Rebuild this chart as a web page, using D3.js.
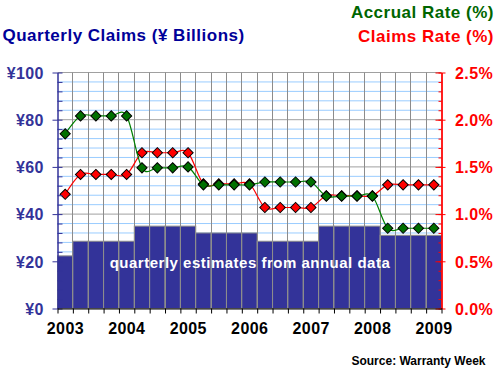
<!DOCTYPE html>
<html>
<head>
<meta charset="utf-8">
<script src="https://cdn.jsdelivr.net/npm/d3@7"></script>
<style>
  body { margin: 0; background: #fff; }
  text { font-family: "Liberation Sans", Arial, sans-serif; }
</style>
</head>
<body>
<div id="chart"></div>
<script>
// quarters, 2003 Q1 .. 2009 Q1
var quarters = ["2003 Q1","2003 Q2","2003 Q3","2003 Q4",
                "2004 Q1","2004 Q2","2004 Q3","2004 Q4",
                "2005 Q1","2005 Q2","2005 Q3","2005 Q4",
                "2006 Q1","2006 Q2","2006 Q3","2006 Q4",
                "2007 Q1","2007 Q2","2007 Q3","2007 Q4",
                "2008 Q1","2008 Q2","2008 Q3","2008 Q4",
                "2009 Q1"];
// claims in yen billions (quarterly estimates from annual data)
var claims      = [22.3, 28.5, 28.5, 28.5, 28.5, 34.9, 34.9, 34.9, 34.9,
                   32.0, 32.0, 32.0, 32.0, 28.5, 28.5, 28.5, 28.5,
                   34.9, 34.9, 34.9, 34.9, 31.0, 31.0, 31.0, 31.0];
// rates in percent
var accrual     = [1.85, 2.04, 2.04, 2.04, 2.04, 1.49, 1.49, 1.49, 1.50,
                   1.31, 1.31, 1.31, 1.31, 1.34, 1.34, 1.34, 1.34,
                   1.19, 1.19, 1.19, 1.19, 0.85, 0.85, 0.85, 0.85];
var claims_rate = [1.21, 1.42, 1.42, 1.42, 1.42, 1.65, 1.65, 1.65, 1.65,
                   1.32, 1.32, 1.32, 1.32, 1.07, 1.07, 1.07, 1.07,
                   1.195, 1.195, 1.195, 1.195, 1.31, 1.31, 1.31, 1.31];
var left_ticks  = [0, 20, 40, 60, 80, 100];
var right_ticks = [0, 0.5, 1.0, 1.5, 2.0, 2.5];

var chart_width  = 496;
var chart_height = 374;
var left   = 57.5, right = 441.5;
var top_y  = 72.5, bottom = 308.5;

var svg = d3.select('#chart')
    .append('svg')
    .attr('width', chart_width)
    .attr('height', chart_height);

// Scales
var x_scale = d3.scaleBand()
                .domain(quarters)
                .range([left, right])
                .padding(0);
// index scale for band edges (ticks + vertical grid)
var xi_scale = d3.scaleLinear()
                .domain([0, quarters.length])
                .range([left, right]);
var yl_scale = d3.scaleLinear().domain([0, 100]).range([bottom, top_y]);
var yr_scale = d3.scaleLinear().domain([0, 2.5]).range([bottom, top_y]);

// horizontal grid, light blue minor, gray major
svg.append('g')
    .selectAll('line')
    .data(d3.range(4, 101, 4))
    .enter()
    .append('line')
    .attr('x1', left).attr('x2', right)
    .attr('y1', function(d){ return yl_scale(d); })
    .attr('y2', function(d){ return yl_scale(d); })
    .attr('stroke', function(d){ return d % 20 === 0 ? '#a0a0a0' : '#99ccff'; })
    .attr('stroke-width', 1);

// bars
svg.append('g')
    .selectAll('rect')
    .data(claims)
    .enter()
    .append('rect')
    .attr('x', function(d, i){ return x_scale(quarters[i]); })
    .attr('y', function(d){ return yl_scale(d); })
    .attr('width', x_scale.bandwidth())
    .attr('height', function(d){ return bottom - yl_scale(d); })
    .attr('fill', '#333399')
    .attr('stroke', '#8c8c8c')
    .attr('stroke-width', 1);

// vertical grid over the bars
svg.append('g')
    .selectAll('line')
    .data(d3.range(1, quarters.length))
    .enter()
    .append('line')
    .attr('x1', function(d){ return Math.round(xi_scale(d) - 0.5) + 0.5; })
    .attr('x2', function(d){ return Math.round(xi_scale(d) - 0.5) + 0.5; })
    .attr('y1', top_y).attr('y2', bottom)
    .attr('stroke', '#8c8c8c')
    .attr('stroke-width', 1);

svg.append('text')
    .attr('x', 250)
    .attr('y', 267.5)
    .attr('text-anchor', 'middle')
    .attr('font-size', 15)
    .attr('font-weight', 'bold')
    .attr('letter-spacing', 0.5)
    .attr('fill', '#fff')
    .text('quarterly estimates from annual data');

// rate lines, red first so green sits on top
var line = d3.line()
    .x(function(d, i){ return x_scale(quarters[i]) + x_scale.bandwidth() / 2; })
    .y(function(d){ return yr_scale(d); })
    .curve(d3.curveCardinal.tension(0));

var diamond = d3.symbol().type(d3.symbolSquare).size(52);

function drawSeries(values, line_color, fill_color){
    var g = svg.append('g');
    g.append('path')
        .datum(values)
        .attr('d', line)
        .attr('fill', 'none')
        .attr('stroke', line_color)
        .attr('stroke-width', 1.2);
    g.selectAll('path.pt')
        .data(values)
        .enter()
        .append('path')
        .attr('class', 'pt')
        .attr('d', diamond)
        .attr('transform', function(d, i){
            return 'translate(' + (x_scale(quarters[i]) + x_scale.bandwidth() / 2) + ',' + yr_scale(d) + ') rotate(45)';
        })
        .attr('fill', fill_color)
        .attr('stroke', '#000')
        .attr('stroke-width', 1);
}
drawSeries(claims_rate, '#ff0000', '#ff0000');
drawSeries(accrual, '#008000', '#007000');

function styleLabels(sel, color){
    sel.attr('font-size', 16)
       .attr('font-weight', 'bold')
       .attr('letter-spacing', 0.4)
       .attr('font-family', '"Liberation Sans", Arial, sans-serif')
       .attr('fill', color);
}

// Axes
// left: labels + outward major ticks, inward minor ticks
var left_axis = svg.append('g')
    .attr('transform', 'translate(' + left + ',0)')
    .call(d3.axisLeft(yl_scale).tickValues(left_ticks).tickSize(5).tickSizeOuter(0)
          .tickFormat(function(d){ return '¥' + d; }));
var left_inner = svg.append('g')
    .attr('transform', 'translate(' + left + ',0)')
    .call(d3.axisLeft(yl_scale).tickValues(d3.range(0, 101, 4)).tickSize(-5).tickSizeOuter(0)
          .tickFormat(''));
left_axis.selectAll('.domain, .tick line').attr('stroke', '#333399');
left_inner.selectAll('.domain, .tick line').attr('stroke', '#333399');
left_axis.selectAll('text')
    .attr('x', -13.6)
    .attr('dy', '0.36em')
    .call(styleLabels, '#333399');

// right
var right_axis = svg.append('g')
    .attr('transform', 'translate(' + right + ',0)')
    .call(d3.axisRight(yr_scale).tickValues(right_ticks).tickSize(4).tickSizeOuter(0)
          .tickFormat(function(d){ return d.toFixed(1) + '%'; }));
var right_inner = svg.append('g')
    .attr('transform', 'translate(' + right + ',0)')
    .call(d3.axisRight(yr_scale).tickValues(d3.range(0, 26).map(function(d){ return d / 10; }))
          .tickSize(-3).tickSizeOuter(0).tickFormat(''));
var right_major = svg.append('g')
    .attr('transform', 'translate(' + right + ',0)')
    .call(d3.axisRight(yr_scale).tickValues(right_ticks).tickSize(-6).tickSizeOuter(0).tickFormat(''));
[right_axis, right_inner, right_major].forEach(function(g){
    g.selectAll('.domain, .tick line').attr('stroke', '#ff0000');
});
right_axis.selectAll('text')
    .attr('x', 13.5)
    .attr('dy', '0.36em')
    .call(styleLabels, '#ff0000');

// bottom: ticks on band edges, year labels on Q1 bands
svg.append('g')
    .attr('transform', 'translate(0,' + bottom + ')')
    .call(d3.axisBottom(xi_scale).tickValues(d3.range(0, quarters.length + 1)).tickSize(5)
          .tickSizeOuter(0).tickFormat(''))
    .selectAll('.domain, .tick line').attr('stroke', '#000');
var bottom_axis = svg.append('g')
    .attr('transform', 'translate(0,' + bottom + ')')
    .call(d3.axisBottom(x_scale)
          .tickValues(quarters.filter(function(q){ return /Q1$/.test(q); }))
          .tickSize(0).tickSizeOuter(0)
          .tickFormat(function(q){ return q.slice(0, 4); }));
bottom_axis.select('.domain').remove();
bottom_axis.selectAll('text')
    .attr('y', 25.5)
    .attr('dy', 0)
    .attr('dx', 0.2)
    .call(styleLabels, '#000');

// Titles
svg.append('text')
    .attr('x', 2.5).attr('y', 41)
    .attr('font-size', 17).attr('font-weight', 'bold').attr('letter-spacing', 0.5)
    .attr('fill', '#000099')
    .text('Quarterly Claims (¥ Billions)');
svg.append('text')
    .attr('x', 494).attr('y', 17.5)
    .attr('text-anchor', 'end')
    .attr('font-size', 17).attr('font-weight', 'bold').attr('letter-spacing', 0.5)
    .attr('fill', '#006600')
    .text('Accrual Rate (%)');
svg.append('text')
    .attr('x', 494).attr('y', 41.5)
    .attr('text-anchor', 'end')
    .attr('font-size', 17).attr('font-weight', 'bold').attr('letter-spacing', 0.5)
    .attr('fill', '#ff0000')
    .text('Claims Rate (%)');
svg.append('text')
    .attr('x', 485.5).attr('y', 364.5)
    .attr('text-anchor', 'end')
    .attr('font-size', 12).attr('font-weight', 'bold')
    .attr('fill', '#000')
    .text('Source: Warranty Week');
</script>
</body>
</html>
